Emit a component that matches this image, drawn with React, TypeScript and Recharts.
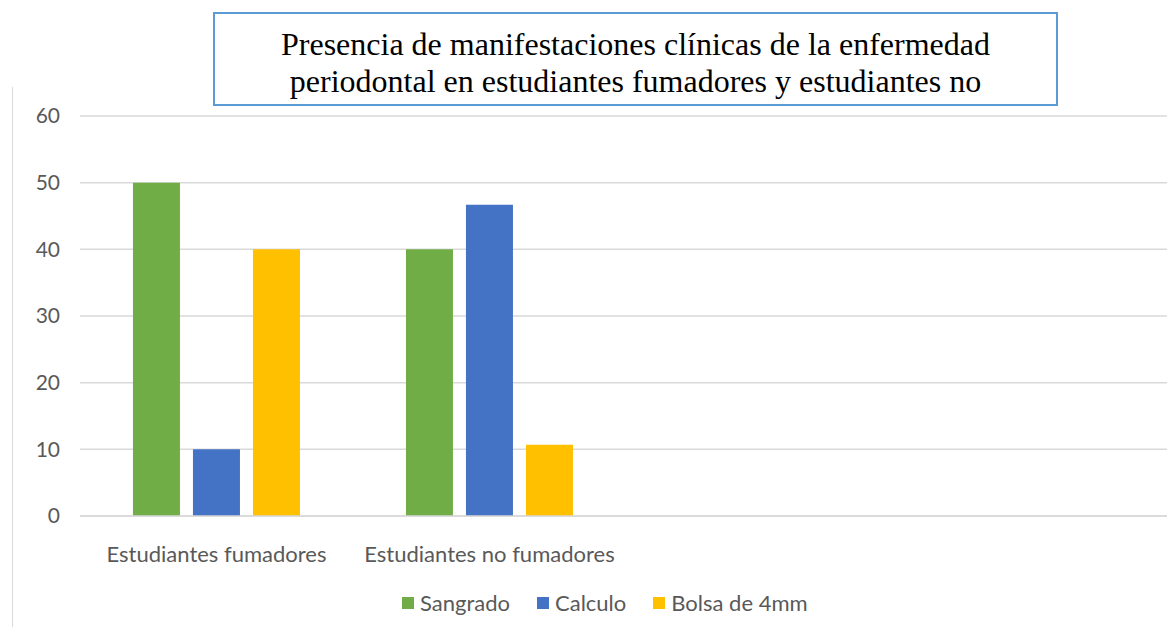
import React from "react";
import { BarChart, Bar, XAxis, YAxis, CartesianGrid, Legend } from "recharts";

const categories = ["Estudiantes fumadores", "Estudiantes no fumadores", "", " "];
const sangrado = [50, 40, null, null];
const calculo = [10, 46.7, null, null];
const bolsa = [40, 10.7, null, null];
const yTicks = [0, 10, 20, 30, 40, 50, 60];
const title =
  "Presencia de manifestaciones clínicas de la enfermedad periodontal en estudiantes fumadores y estudiantes no fumadores";

const series = [
  { key: "sangrado", name: "Sangrado", color: "#70AD47" },
  { key: "calculo", name: "Calculo", color: "#4472C4" },
  { key: "bolsa", name: "Bolsa de 4mm", color: "#FFC000" },
];

const data = categories.map((c, i) => ({
  name: c,
  sangrado: sangrado[i],
  calculo: calculo[i],
  bolsa: bolsa[i],
}));

const font = "Lato, 'Open Sans', sans-serif";

const LegendContent = () => (
  <div style={{ display: "flex", alignItems: "center", fontFamily: font, fontSize: 22, lineHeight: "26px", color: "#595959" }}>
    {series.map((s) => (
      <div key={s.key} style={{ display: "flex", alignItems: "center", marginRight: 27 }}>
        <span style={{ display: "inline-block", width: 12, height: 12, background: s.color, marginRight: 6 }} />
        <span>{s.name}</span>
      </div>
    ))}
  </div>
);

export default function App() {
  return (
    <div style={{ position: "relative", width: 1175, height: 635, margin: -8, background: "#fff", overflow: "hidden" }}>
      <div style={{ position: "absolute", left: 12, top: 87, width: 1, height: 548, background: "#d9d9d9" }} />
      <BarChart
        width={1175}
        height={635}
        data={data}
        margin={{ top: 116, right: 3, bottom: 63, left: 0 }}
        barCategoryGap="19.4%"
        barGap={13}
      >
        <CartesianGrid vertical={false} stroke="#d9d9d9" strokeWidth={1.5} />
        <XAxis
          dataKey="name"
          axisLine={{ stroke: "#d9d9d9", strokeWidth: 1.5 }}
          tickLine={false}
          tickMargin={24}
          interval={0}
          tick={{ fill: "#595959", fontSize: 22, fontFamily: font }}
        />
        <YAxis
          width={80}
          domain={[0, 60]}
          ticks={yTicks}
          axisLine={false}
          tickLine={false}
          tickSize={0}
          tickMargin={20}
          tick={{ fill: "#595959", fontSize: 21, fontFamily: font }}
        />
        <Legend
          content={<LegendContent />}
          wrapperStyle={{ left: 402, top: 590, width: "auto" }}
        />
        {series.map((s) => (
          <Bar key={s.key} dataKey={s.key} name={s.name} fill={s.color} isAnimationActive={false} />
        ))}
      </BarChart>
      <div
        style={{
          position: "absolute",
          left: 213,
          top: 12,
          width: 845,
          height: 94,
          boxSizing: "border-box",
          border: "2px solid #5B9BD5",
          background: "#fff",
          overflow: "hidden",
          textAlign: "center",
          fontFamily: "'Liberation Serif', 'Times New Roman', serif",
          fontSize: 32,
          lineHeight: "37px",
          color: "#000",
          padding: "12px 55px 0 55px",
        }}
      >
        {title}
      </div>
    </div>
  );
}
